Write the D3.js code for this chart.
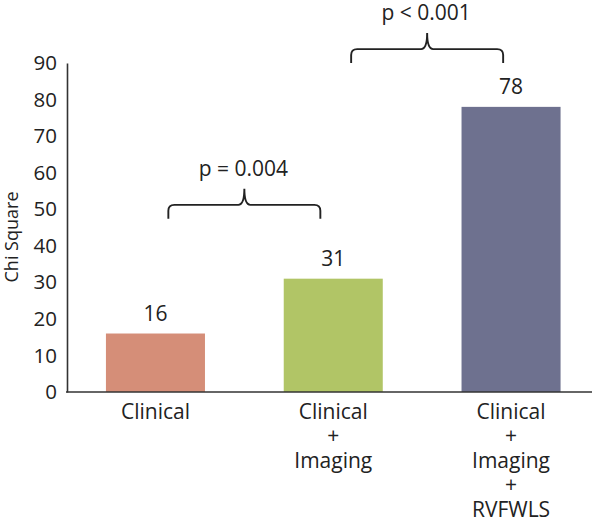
<!DOCTYPE html>
<html>
<head>
<meta charset="utf-8">
<script src="https://cdn.jsdelivr.net/npm/d3@7"></script>
<style>
  html, body { margin: 0; padding: 0; background: #fff; }
  svg { display: block; }
  text { font-family: "Open Sans", "Noto Sans", sans-serif; fill: #222; }
</style>
</head>
<body>
<script>
// ---- data ----
const categories = ["Clinical", "Clinical + Imaging", "Clinical + Imaging + RVFWLS"];
const categoryLines = [["Clinical"], ["Clinical", "+", "Imaging"], ["Clinical", "+", "Imaging", "+", "RVFWLS"]];
const values = [16, 31, 78];
const colors = ["#D58E78", "#B1C566", "#6E718F"];
const yTicks = [0, 10, 20, 30, 40, 50, 60, 70, 80, 90];
const comparisonFrom = [0, 1];
const comparisonTo = [1, 2];
const comparisonLabels = ["p = 0.004", "p < 0.001"];
const comparisonLevels = [51.2, 93.8];
const yTitle = "Chi Square";

// ---- layout ----
const W = 600, H = 519;
const svg = d3.select("body").append("svg").attr("width", W).attr("height", H);

const x = d3.scaleBand().domain(categories).range([67, 599.5]).paddingInner(0.443).paddingOuter(0.219);
const y = d3.scaleLinear().domain([0, 90]).range([392, 63]);

// y axis
const yAxis = svg.append("g").attr("transform", "translate(67,0)")
  .call(d3.axisLeft(y).tickValues(yTicks).tickSize(0).tickPadding(10));
yAxis.select(".domain").attr("stroke", "#333").attr("stroke-width", 1.6);
yAxis.selectAll("text").style("font-size", "20.5px").attr("fill", "#222")
  .style("font-family", '"Open Sans", sans-serif');

// bars
svg.selectAll("rect.bar").data(values).enter().append("rect")
  .attr("class", "bar")
  .attr("x", (d, i) => x(categories[i]))
  .attr("width", x.bandwidth())
  .attr("y", d => y(d))
  .attr("height", d => y(0) - y(d))
  .attr("fill", (d, i) => colors[i]);

// baseline
svg.append("line").attr("x1", 66).attr("x2", 592).attr("y1", y(0)).attr("y2", y(0))
  .attr("stroke", "#333").attr("stroke-width", 1.6);

// value labels
svg.selectAll("text.val").data(values).enter().append("text")
  .attr("class", "val")
  .attr("x", (d, i) => x(categories[i]) + x.bandwidth() / 2)
  .attr("y", d => y(d) - 12.5)
  .attr("text-anchor", "middle")
  .style("font-size", "21px")
  .text(d => d);

// category labels
categoryLines.forEach((lines, i) => {
  const cx = x(categories[i]) + x.bandwidth() / 2;
  const t = svg.append("text").attr("text-anchor", "middle").style("font-size", "21px");
  lines.forEach((ln, j) => {
    t.append("tspan").attr("x", cx).attr("y", 418.5 + j * 24.6).text(ln);
  });
});

// y title
svg.append("text")
  .attr("transform", "translate(18,237) rotate(-90)")
  .attr("text-anchor", "middle")
  .style("font-size", "18px")
  .text(yTitle);

// brackets
const bracketShift = [0, 5];
comparisonFrom.forEach((a, k) => {
  const b = comparisonTo[k];
  const ca = x(categories[a]) + x.bandwidth() / 2;
  const cb = x(categories[b]) + x.bandwidth() / 2;
  const mid = (ca + cb) / 2 + bracketShift[k];
  const half = 76;
  const x0 = mid - half, x1 = mid + half;
  const yh = y(comparisonLevels[k]);
  const yb = yh + 14, yt = yh - 16;
  const r = 6;
  const path = d3.path();
  path.moveTo(x0, yb);
  path.lineTo(x0, yh + r);
  path.quadraticCurveTo(x0, yh, x0 + r, yh);
  path.lineTo(mid - r, yh);
  path.quadraticCurveTo(mid, yh, mid, yt);
  path.quadraticCurveTo(mid, yh, mid + r, yh);
  path.lineTo(x1 - r, yh);
  path.quadraticCurveTo(x1, yh, x1, yh + r);
  path.lineTo(x1, yb);
  svg.append("path").attr("d", path.toString())
    .attr("fill", "none").attr("stroke", "#222").attr("stroke-width", 1.9);
  svg.append("text").attr("x", mid - 1).attr("y", yt - 13)
    .attr("text-anchor", "middle").style("font-size", "21px")
    .text(comparisonLabels[k]);
});
</script>
</body>
</html>
